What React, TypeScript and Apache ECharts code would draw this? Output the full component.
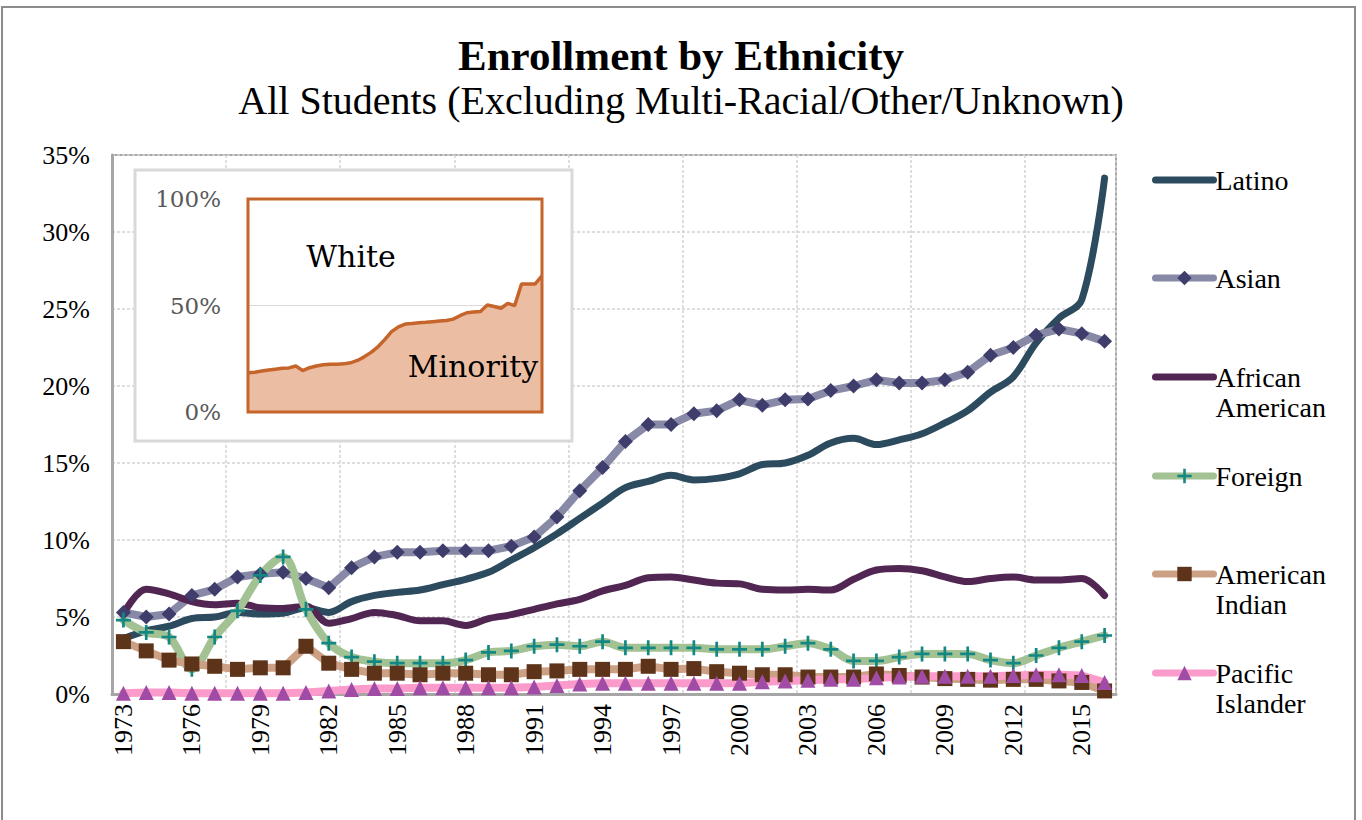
import React, { useEffect, useRef } from 'react';
import * as echarts from 'echarts';

const years = ['1973','1974','1975','1976','1977','1978','1979','1980','1981','1982','1983','1984','1985','1986','1987','1988','1989','1990','1991','1992','1993','1994','1995','1996','1997','1998','1999','2000','2001','2002','2003','2004','2005','2006','2007','2008','2009','2010','2011','2012','2013','2014','2015','2016'];

const latino = [3.6,4.1,4.4,4.9,5.0,5.3,5.2,5.25,5.6,5.3,6.0,6.4,6.6,6.75,7.1,7.45,7.9,8.7,9.5,10.4,11.4,12.4,13.4,13.8,14.2,13.9,14.0,14.3,14.9,15.0,15.5,16.3,16.6,16.2,16.5,16.9,17.6,18.4,19.6,20.6,22.8,24.4,25.6,33.5];
const asian = [5.3,5.0,5.2,6.4,6.8,7.6,7.8,7.9,7.5,6.9,8.2,8.9,9.2,9.2,9.3,9.3,9.3,9.6,10.2,11.5,13.2,14.7,16.4,17.5,17.5,18.2,18.4,19.1,18.75,19.1,19.15,19.7,20.0,20.4,20.2,20.2,20.4,20.9,22.0,22.5,23.3,23.7,23.4,22.9];
const africanAmerican = [5.2,6.8,6.5,6.0,5.8,5.9,5.6,5.55,5.7,4.6,4.9,5.3,5.1,4.75,4.75,4.45,4.9,5.15,5.5,5.85,6.15,6.7,7.05,7.55,7.6,7.4,7.2,7.15,6.8,6.75,6.8,6.75,7.45,8.05,8.15,8.0,7.6,7.3,7.5,7.6,7.4,7.4,7.5,6.4];
const foreign = [4.8,4.0,3.7,1.6,3.7,5.4,7.7,8.9,5.5,3.3,2.4,2.1,2.0,2.0,2.0,2.2,2.7,2.8,3.1,3.2,3.1,3.4,3.0,3.0,3.0,3.0,2.9,2.9,2.9,3.1,3.3,2.9,2.15,2.15,2.4,2.6,2.6,2.6,2.2,2.0,2.5,3.0,3.4,3.8];
const americanIndian = [3.4,2.8,2.2,1.95,1.8,1.6,1.7,1.7,3.1,2.0,1.6,1.35,1.35,1.25,1.35,1.35,1.25,1.25,1.45,1.5,1.6,1.6,1.6,1.8,1.6,1.65,1.45,1.35,1.25,1.25,1.1,1.1,1.1,1.3,1.2,1.1,1.0,0.95,0.9,0.95,0.95,0.85,0.75,0.2];
const pacificIslander = [0.05,0.1,0.1,0.05,0.05,0.05,0.05,0.05,0.1,0.2,0.3,0.35,0.35,0.4,0.4,0.4,0.4,0.4,0.45,0.55,0.65,0.7,0.7,0.7,0.7,0.7,0.7,0.7,0.8,0.85,0.9,0.95,0.95,1.05,1.1,1.15,1.15,1.15,1.15,1.2,1.25,1.25,1.2,0.75];
const minorityShare = [18.4,18.7,19.2,19.7,20.1,20.5,20.7,21.6,19.4,20.8,21.6,22.2,22.4,22.4,22.6,23.1,24.2,25.9,28.0,30.6,34.0,37.7,40.0,41.3,41.5,41.9,42.1,42.4,42.7,43.0,43.6,45.2,46.6,46.9,47.2,50.2,49.5,48.7,51.0,49.9,60.1,60.1,60.1,63.9];

const seriesNames = ['Latino', 'Asian', 'African American', 'Foreign', 'American Indian', 'Pacific Islander'];
const legendLabels = ['Latino', 'Asian', '\nAfrican\nAmerican', 'Foreign', '\nAmerican\nIndian', '\nPacific\nIslander'];
const legendCenters = [180, 278, 377, 476, 574, 673];
const legendHasMarker = [false, true, false, true, true, true];

const SERIF = '"Liberation Serif", "Times New Roman", serif';
const INSET_FONT = '"DejaVu Serif", serif';
const PLUS = 'path://M4.1,0H5.9V4.1H10V5.9H5.9V10H4.1V5.9H0V4.1H4.1Z';

export default function App() {
  const ref = useRef<HTMLDivElement>(null);

  useEffect(() => {
    const chart = echarts.init(ref.current as HTMLDivElement, null, { renderer: 'svg' });

    const mk = (name: string, data: number[], lineColor: string, width: number, symbol: string, symColor: string, smooth: boolean | number) => ({
      name,
      type: 'line',
      data,
      xAxisIndex: 0,
      yAxisIndex: 0,
      smooth,
      symbol,
      symbolSize: 15,
      showSymbol: symbol !== 'none',
      lineStyle: { color: lineColor, width, cap: 'round', join: 'round' },
      itemStyle: { color: symColor },
      emphasis: { disabled: true },
      z: 2,
    });

    const series: any[] = [
      mk('Latino', latino, '#2c4b5e', 7, 'none', '#2c4b5e', 0.35),
      mk('Asian', asian, '#8789a6', 8, 'diamond', '#3f3d6b', false),
      mk('African American', africanAmerican, '#512653', 7, 'none', '#512653', 0.35),
      mk('Foreign', foreign, '#a3c293', 8, PLUS, '#128784', 0.35),
      mk('American Indian', americanIndian, '#cba084', 8, 'rect', '#5d3319', false),
      mk('Pacific Islander', pacificIslander, '#fb9bcb', 8, 'triangle', '#a04ca6', false),
      {
        name: 'Minority',
        type: 'line',
        xAxisIndex: 1,
        yAxisIndex: 1,
        data: minorityShare,
        symbol: 'none',
        showSymbol: false,
        lineStyle: { color: '#c5652b', width: 3.5 },
        areaStyle: { color: '#ebbea3', opacity: 1 },
        emphasis: { disabled: true },
        z: 20,
      },
    ];

    const legends = seriesNames.map((name, i) => {
      const label = legendLabels[i];
      const lines = label.split('\n').length;
      return {
        data: [legendHasMarker[i] ? { name } : { name, itemStyle: { opacity: 0 } }],
        orient: 'vertical',
        left: 1152,
        top: legendCenters[i] - (lines * 30) / 2,
        padding: 0,
        itemWidth: 58,
        itemHeight: 18,
        itemGap: 0,
        selectedMode: false,
        formatter: () => label,
        textStyle: { fontFamily: SERIF, fontSize: 28, color: '#000', lineHeight: 30, padding: [0, 0, 0, -3] },
        lineStyle: { width: 7, cap: 'round' },
      };
    });

    const option: any = {
      animation: false,
      backgroundColor: '#ffffff',
      title: [
        {
          text: 'Enrollment by Ethnicity',
          left: 'center',
          top: 29,
          textStyle: { fontFamily: SERIF, fontSize: 43, fontWeight: 'bold', color: '#000' },
        },
        {
          text: 'All Students (Excluding Multi-Racial/Other/Unknown)',
          left: 'center',
          top: 75,
          textStyle: { fontFamily: SERIF, fontSize: 40, fontWeight: 'normal', color: '#000' },
        },
      ],
      legend: legends,
      grid: [
        { left: 112, top: 155, width: 1004, height: 539, show: true, borderColor: '#a6a6a6', borderWidth: 2, backgroundColor: 'transparent' },
        { left: 248, top: 199, width: 294, height: 213, show: true, borderWidth: 0, backgroundColor: '#ffffff', z: 20 },
      ],
      xAxis: [
        {
          type: 'category',
          gridIndex: 0,
          data: years,
          boundaryGap: true,
          axisLine: { show: true, lineStyle: { color: '#a6a6a6', width: 3 } },
          axisTick: { show: false },
          axisLabel: { interval: 2, rotate: 90, margin: 10, fontFamily: SERIF, fontSize: 26, color: '#000' },
          splitLine: { show: true, interval: 4, lineStyle: { color: '#d4d4d4', width: 1.5, type: [3, 2] } },
        },
        {
          type: 'category',
          gridIndex: 1,
          data: years,
          boundaryGap: false,
          axisLine: { show: false },
          axisTick: { show: false },
          axisLabel: { show: false },
          splitLine: { show: false },
          z: 20,
        },
      ],
      yAxis: [
        {
          type: 'value',
          gridIndex: 0,
          min: 0,
          max: 35,
          interval: 5,
          axisLine: { show: true, lineStyle: { color: '#a6a6a6', width: 3 } },
          axisTick: { show: false },
          axisLabel: { formatter: '{value}%', margin: 22, fontFamily: SERIF, fontSize: 26, color: '#000' },
          splitLine: { show: true, lineStyle: { color: '#d4d4d4', width: 1.5, type: [3, 2] } },
        },
        {
          type: 'value',
          gridIndex: 1,
          min: 0,
          max: 100,
          interval: 50,
          axisLine: { show: false },
          axisTick: { show: false },
          axisLabel: { formatter: '{value}%', margin: 27, fontFamily: INSET_FONT, fontSize: 23, color: '#595959' },
          splitLine: { show: true, lineStyle: { color: '#d9d9d9', width: 1 } },
          z: 20,
        },
      ],
      graphic: [
        { type: 'rect', shape: { x: 2, y: 7, width: 1353, height: 840 }, style: { fill: 'none', stroke: '#8c8c8c', lineWidth: 2 }, z: 0, silent: true },
        { type: 'rect', shape: { x: 135, y: 170, width: 437, height: 271 }, style: { fill: '#ffffff', stroke: '#d9d9d9', lineWidth: 3 }, z: 10, silent: true },
        { type: 'rect', shape: { x: 248, y: 199, width: 294, height: 213 }, style: { fill: 'none', stroke: '#c5652b', lineWidth: 3 }, z: 30, silent: true },
        { type: 'text', x: 351, y: 256, style: { text: 'White', font: '30px "DejaVu Serif", serif', fill: '#000', align: 'center', verticalAlign: 'middle' }, z: 30, silent: true },
        { type: 'text', x: 473, y: 366, style: { text: 'Minority', font: '30px "DejaVu Serif", serif', fill: '#000', align: 'center', verticalAlign: 'middle' }, z: 30, silent: true },
      ],
      series,
    };

    chart.setOption(option);
    return () => chart.dispose();
  }, []);

  return <div ref={ref} style={{ position: 'fixed', left: 0, top: 0, width: 1362, height: 820, background: '#fff' }} />;
}
